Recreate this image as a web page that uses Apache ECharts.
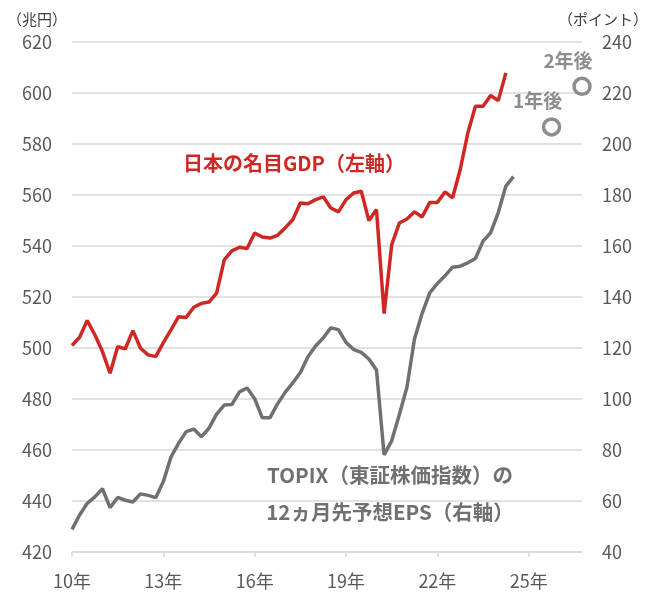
<!DOCTYPE html>
<html lang="ja">
<head>
  <meta charset="utf-8">
  <title>名目GDPとTOPIX予想EPS</title>
  <script src="https://cdn.jsdelivr.net/npm/echarts@6/dist/echarts.min.js"></script>
  <style>
    html, body { margin: 0; padding: 0; background: #fff; }
    #container { width: 653px; height: 594px; }
  </style>
</head>
<body>
<div id="container"></div>
<script>
  // 年ラベル（四半期ごとのカテゴリに展開する）
  var years = ['10年', '11年', '12年', '13年', '14年', '15年', '16年', '17年', '18年',
               '19年', '20年', '21年', '22年', '23年', '24年', '25年', '26年'];
  var quarters = ['1Q', '2Q', '3Q', '4Q'];

  // 日本の名目GDP（兆円、左軸） 2010年1Q〜2024年2Q
  var gdp = [501.0, 504.2, 510.8, 505.2, 498.6, 490.1, 500.5, 499.7, 506.8, 499.9,
             497.3, 496.6, 502.1, 507.1, 512.3, 512.0, 516.0, 517.5, 518.0, 521.5,
             534.6, 538.1, 539.5, 539.0, 545.1, 543.5, 543.1, 544.2, 547.1, 550.3,
             556.9, 556.6, 558.2, 559.3, 554.9, 553.4, 558.2, 560.8, 561.5, 550.0,
             554.3, 513.5, 540.5, 549.0, 550.6, 553.4, 551.4, 557.1, 557.1, 561.2,
             558.9, 570.0, 584.3, 594.8, 594.8, 599.0, 597.0, 607.9];

  // TOPIXの12ヵ月先予想EPS（ポイント、右軸） 2010年1Q〜2024年3Q
  var eps = [48.9, 54.5, 59.1, 61.6, 64.8, 57.4, 61.4, 60.3, 59.6, 62.8,
             62.2, 61.3, 67.6, 77.2, 82.6, 87.2, 88.2, 85.2, 88.6, 94.1,
             97.6, 97.8, 102.8, 104.3, 100.1, 92.6, 92.6, 98.1, 102.6, 106.3,
             110.4, 116.6, 120.8, 123.9, 127.9, 127.2, 122.2, 119.4, 118.3, 115.7,
             111.4, 78.1, 83.6, 93.8, 104.6, 123.6, 133.6, 141.6, 145.3, 148.3,
             151.7, 152.1, 153.4, 155.1, 161.9, 165.2, 173.1, 183.5, 187.2];

  // 予想値（1年後・2年後）
  var forecastNames = ['1年後', '2年後'];
  var forecastAt = ['25年4Q', '26年4Q'];
  var forecastEps = [206.7, 222.6];

  var leftTicks = { min: 420, max: 620, step: 20 };
  var rightTicks = { min: 40, max: 240, step: 20 };

  var categories = [];
  years.forEach(function (y) {
    quarters.forEach(function (q) { categories.push(y + q); });
  });

  var forecastData = forecastAt.map(function (c, i) {
    return { value: [c, forecastEps[i]], name: forecastNames[i] };
  });

  var red = '#cf2824';
  var gray = '#707070';
  var labelColor = '#595959';
  var gridColor = '#d9d9d9';
  var jp = '"Noto Sans CJK JP", sans-serif';

  var myChart = echarts.init(document.getElementById('container'));

  var option = {
    animation: false,
    backgroundColor: '#fff',
    textStyle: { fontFamily: jp },
    grid: { left: 72, right: 71, top: 42, bottom: 42 },
    xAxis: {
      type: 'category',
      data: categories,
      boundaryGap: false,
      axisLine: { lineStyle: { color: gridColor, width: 1.5 } },
      axisTick: { interval: 11, length: 5, lineStyle: { color: gridColor, width: 1.5 } },
      axisLabel: {
        interval: 11,
        margin: 20,
        color: labelColor,
        fontSize: 18,
        fontFamily: jp,
        formatter: function (v) { return v.slice(0, -2); }
      },
      splitLine: { show: false }
    },
    yAxis: [
      {
        type: 'value',
        min: leftTicks.min, max: leftTicks.max, interval: leftTicks.step,
        axisLine: { show: false },
        axisTick: { show: false },
        axisLabel: { margin: 20, color: labelColor, fontSize: 18, fontFamily: jp },
        splitLine: { lineStyle: { color: gridColor, width: 1.5 } }
      },
      {
        type: 'value',
        position: 'right',
        min: rightTicks.min, max: rightTicks.max, interval: rightTicks.step,
        axisLine: { show: false },
        axisTick: { show: false },
        axisLabel: { margin: 20, color: labelColor, fontSize: 18, fontFamily: jp },
        splitLine: { show: false }
      }
    ],
    series: [
      {
        name: 'TOPIX予想EPS',
        type: 'line',
        yAxisIndex: 1,
        data: eps,
        showSymbol: false,
        lineStyle: { color: gray, width: 3.5 },
        itemStyle: { color: gray },
        z: 2
      },
      {
        name: '名目GDP',
        type: 'line',
        yAxisIndex: 0,
        data: gdp,
        showSymbol: false,
        lineStyle: { color: red, width: 3.5 },
        itemStyle: { color: red },
        z: 3
      },
      {
        name: '予想',
        type: 'scatter',
        yAxisIndex: 1,
        data: forecastData,
        symbol: 'circle',
        symbolSize: 16,
        itemStyle: { color: '#fff', borderColor: gray, borderWidth: 3.5 },
        label: {
          show: true,
          position: 'inside',
          offset: [-14, -26],
          formatter: '{b}',
          color: gray,
          fontSize: 19,
          fontWeight: 'bold',
          fontFamily: jp
        }
      }
    ],
    graphic: [
      {
        type: 'text', x: 7, y: 19,
        style: { text: '（兆円）', fill: '#404040', fontSize: 15, fontFamily: jp,
                 align: 'left', verticalAlign: 'middle' }
      },
      {
        type: 'text', x: 648, y: 19,
        style: { text: '（ポイント）', fill: '#404040', fontSize: 15, fontFamily: jp,
                 align: 'right', verticalAlign: 'middle' }
      },
      {
        type: 'text', x: 183, y: 163,
        style: { text: '日本の名目GDP（左軸）', fill: red, fontSize: 20, fontWeight: 'bold',
                 fontFamily: jp, align: 'left', verticalAlign: 'middle' }
      },
      {
        type: 'text', x: 390, y: 494,
        style: { text: 'TOPIX（東証株価指数）の\n12ヵ月先予想EPS（右軸）', fill: gray,
                 fontSize: 20.5, fontWeight: 'bold', lineHeight: 37, fontFamily: jp,
                 align: 'center', verticalAlign: 'middle' }
      }
    ]
  };

  myChart.setOption(option);
</script>
</body>
</html>
